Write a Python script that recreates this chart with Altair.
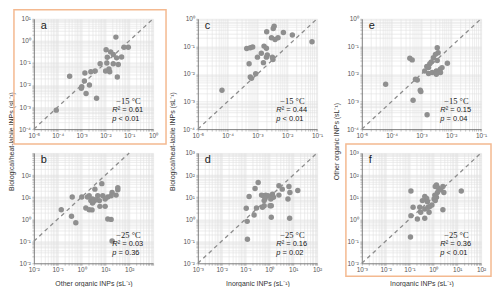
import altair as alt
import numpy as np
import pandas as pd

SANS = "Liberation Sans"
SERIF = "Liberation Serif"

# ---- data: log10 values ----
a_x = [-1.56, -1.97, -1.22, -1.04, -1.78, -1.67, -1.92, -1.32, -1.53, -2.22, -1.94, -1.67, -1.46, -1.85,
       -1.99, -1.82, -2.43, -2.61, -2.86, -1.50, -3.50, -2.88, -2.99, -3.01, -2.67, -2.81, -2.37, -4.06]
a_y = [0.17, -0.40, -0.29, -0.29, -0.50, -0.62, -0.74, -0.73, -0.77, -1.04, -1.00, -1.04, -1.07, -1.27,
       -1.37, -1.40, -1.37, -1.40, -1.46, -1.64, -1.60, -1.82, -2.08, -2.15, -2.00, -2.39, -2.60, -3.14]

b_x = [0.85, 1.52, 1.52, 1.28, 0.56, 0.32, 0.01, 0.25, 0.46, 0.68, 0.89, 1.10, 1.24, 1.45, 0.99, 0.75,
       0.61, 0.51, 0.39, 0.46, 0.77, 0.99, 0.18, 0.32, 0.44, -0.39, -0.85, -0.42, -0.24, 1.10, 1.24, 1.28]
b_y = [1.61, 1.43, 1.33, 1.21, 1.36, 1.06, 1.00, 1.00, 0.91, 1.06, 1.06, 1.00, 1.06, 1.09, 0.91, 0.84,
       0.88, 0.81, 0.84, 0.73, 0.58, 0.58, 0.51, 0.43, 0.42, 1.00, 0.43, 0.13, -0.16, 0.01, -0.01, -0.99]

c_x = [-2.44, -2.47, -2.13, -1.83, -2.69, -2.53, -2.41, -2.31, -1.17, -3.24, -3.16, -3.36, -2.78, -2.70,
       -2.87, -3.00, -2.67, -2.70, -2.50, -2.48, -2.80, -3.28, -3.06, -3.24, -3.20, -4.19]
c_y = [-0.27, -0.35, -0.50, -0.59, -0.47, -0.69, -0.75, -0.69, -0.83, -1.05, -1.02, -1.08, -0.99, -1.07,
       -1.25, -1.39, -1.31, -1.39, -1.39, -1.48, -1.59, -1.63, -1.99, -2.11, -2.16, -2.59]

d_x = [-0.47, -0.60, 0.40, 0.54, 0.86, 0.82, 1.19, -0.85, -0.33, -0.25, -0.15, -0.06, 0.13, 0.17, -0.18,
       -0.22, 0.06, 0.40, 0.78, -0.22, -0.29, 0.03, 0.08, -0.54, -0.97, -0.64, 0.08, 0.85, -0.93, -0.92]
d_y = [1.66, 1.39, 1.51, 1.36, 1.21, 1.48, 1.30, 1.03, 1.09, 1.06, 1.09, 1.06, 1.13, 0.99, 0.94,
       0.84, 0.91, 1.09, 0.91, 0.61, 0.54, 0.61, 0.61, 0.51, 0.49, 0.19, 0.09, 0.04, -0.10, -0.91]

e_x = [-2.47, -2.44, -2.53, -2.60, -2.47, -2.67, -2.72, -2.82, -2.76, -2.89, -2.76, -2.64, -2.50, -2.42,
       -2.31, -2.37, -2.13, -2.50, -2.36, -3.39, -3.31, -3.20, -3.14, -3.04, -3.02, -3.28, -4.20, -2.81]
e_y = [-1.05, -1.23, -1.29, -1.41, -1.51, -1.57, -1.63, -1.73, -1.77, -1.89, -1.98, -1.95, -1.89, -1.92,
       -1.77, -1.83, -1.61, -2.01, -1.95, -1.43, -1.49, -2.19, -2.22, -2.59, -2.64, -2.95, -2.37, -3.48]

f_x = [0.13, 0.08, 0.19, 0.40, 0.31, 0.17, 0.44, 0.06, 0.13, 0.03, 0.08, -0.06, 1.17, -0.94, -0.36,
       -0.28, -0.46, -0.25, -0.57, -0.85, -0.22, -0.15, -0.36, -0.53, -0.18, -0.67, -0.36, -0.94, 0.40, -0.96]
f_y = [1.55, 1.48, 1.43, 1.48, 1.33, 1.21, 1.21, 1.09, 0.99, 0.91, 0.84, 0.64, 1.28, 1.28, 1.03,
       0.94, 0.84, 0.79, 0.54, 0.54, 0.54, 0.57, 0.46, 0.31, 0.31, 0.01, 0.04, 0.16, 0.43, -0.81]

letters = ["a", "b", "c", "d", "e", "f"]
temps = ["−15 °C", "−25 °C", "−15 °C", "−25 °C", "−15 °C", "−25 °C"]
r2_vals = ["0.61", "0.03", "0.44", "0.16", "0.15", "0.36"]
p_vals = ["< 0.01", "= 0.36", "< 0.01", "= 0.02", "= 0.04", "< 0.01"]
x_decades = [(-5, 0), (-2, 3), (-5, -1), (-3, 2), (-5, -1), (-3, 2)]
y_decades = [(-4, 1), (-2, 3), (-4, 0), (-2, 3), (-4, 0), (-2, 3)]
x_labeled = [(-5, 0), (-2, 2), (-5, -1), (-3, 2), (-5, -1), (-3, 2)]
y_labeled = [(-4, 1), (-2, 2), (-4, 0), (-2, 3), (-4, 0), (-2, 3)]
line_x = [(-5, 0), (-2, 2), (-5, -1), (-3, 2), (-5, -1), (-3, 2)]
line_y = [(-4, 1), (-1, 3), (-4, 0), (-2, 3), (-4, 0), (-2, 3)]
x_titles = [None, "Other organic INPs (sL⁻¹)", None, "Inorganic INPs (sL⁻¹)", None, "Inorganic INPs (sL⁻¹)"]
y_titles = ["Biological/heat-labile INPs (sL⁻¹)", None, "Biological/heat-labile INPs (sL⁻¹)", None,
            "Other organic INPs (sL⁻¹)", None]
y_title_x = [-19, -19, -22, -22, -22, -22]
xs_all = [a_x, b_x, c_x, d_x, e_x, f_x]
ys_all = [a_y, b_y, c_y, d_y, e_y, f_y]
highlight = [True, False, False, False, False, True]
box_rel = {0: (-20, 133, -9, 126), 5: (-16, 130, -9, 124)}

W, H = 120, 111
SUP = str.maketrans("-0123456789", "⁻⁰¹²³⁴⁵⁶⁷⁸⁹")


def decade_label(e):
    return "10" + str(e).translate(SUP)


def label_expr(lo, hi):
    expr = "''"
    for e in range(lo, hi + 1):
        expr = f"abs(log(datum.value) / LN10 - ({e})) < 0.01 ? '{decade_label(e)}' : " + expr
    return expr


def grid_values(lo, hi):
    vals = [m * 10.0 ** k for k in range(lo, hi) for m in range(1, 10)]
    vals.append(10.0 ** hi)
    return vals


one = pd.DataFrame({"k": [0]})


def txt(text, x, y, baseline="middle", **kw):
    return alt.Chart(one).mark_text(text=text, align="left", baseline=baseline, color="#1a1a1a", **kw).encode(
        x=alt.value(x), y=alt.value(y))


def panel(i):
    xlo, xhi = x_decades[i]
    ylo, yhi = y_decades[i]
    xs = alt.Scale(type="log", domain=[10.0 ** xlo, 10.0 ** xhi], nice=False)
    ys = alt.Scale(type="log", domain=[10.0 ** ylo, 10.0 ** yhi], nice=False)
    xaxis_kw = dict(values=grid_values(xlo, xhi), labelExpr=label_expr(*x_labeled[i]), grid=True,
                    labelOverlap=False, labelFlush=False, title=x_titles[i])
    if x_titles[i]:
        xaxis_kw.update(titleX=W / 2, titleY=20, titleAlign="center", titleBaseline="middle")
    yaxis_kw = dict(values=grid_values(ylo, yhi), labelExpr=label_expr(*y_labeled[i]), grid=True,
                    labelOverlap=False, labelFlush=False, title=y_titles[i])
    if y_titles[i]:
        yaxis_kw.update(titleX=y_title_x[i], titleY=123, titleAngle=270, titleAlign="center",
                        titleBaseline="bottom")
    xaxis = alt.Axis(**xaxis_kw)
    yaxis = alt.Axis(**yaxis_kw)

    df = pd.DataFrame({"x": 10.0 ** np.array(xs_all[i]), "y": 10.0 ** np.array(ys_all[i])})
    ldf = pd.DataFrame({"x": [10.0 ** v for v in line_x[i]], "y": [10.0 ** v for v in line_y[i]]})

    line = alt.Chart(ldf).mark_line(strokeDash=[4, 3.5], color="#8c8c8c", strokeWidth=1.3).encode(
        x=alt.X("x:Q", scale=xs, axis=xaxis), y=alt.Y("y:Q", scale=ys, axis=yaxis))
    pts = alt.Chart(df).mark_circle(size=30, color="#8f8f8f", opacity=1).encode(
        x=alt.X("x:Q", scale=xs, axis=xaxis), y=alt.Y("y:Q", scale=ys, axis=yaxis))

    layers = [line, pts,
              txt(letters[i], 7, 10, baseline="alphabetic", font=SANS, fontSize=11),
              txt(temps[i], 83, 82.5, font=SERIF, fontSize=8.5),
              txt("R", 79, 92, font=SANS, fontSize=7.5, fontStyle="italic"),
              txt("² = " + r2_vals[i], 84.4, 92, font=SANS, fontSize=7.5),
              txt("p", 79, 100.5, font=SANS, fontSize=7.5, fontStyle="italic"),
              txt(p_vals[i], 85.3, 100.5, font=SANS, fontSize=7.5)]
    if highlight[i]:
        x0, x1, y0, y1 = box_rel[i]
        layers.append(alt.Chart(one).mark_rect(fillOpacity=0, stroke="#f4b990", strokeWidth=1.5).encode(
            x=alt.value(x0), x2=alt.value(x1), y=alt.value(y0), y2=alt.value(y1)))
    return alt.layer(*layers).properties(width=W, height=H)


order = [0, 2, 4, 1, 3, 5]
chart = alt.concat(*[panel(i) for i in order], columns=3,
                   spacing={"row": 24, "column": 45}, bounds="flush").properties(padding=0)

chart = chart.configure_view(strokeWidth=0).configure_axis(
    labelFont=SANS, titleFont=SANS, labelFontSize=6.5, labelColor="#555555",
    titleFontSize=7, titleColor="#333333", titleFontWeight="normal",
    domainColor="#666666", domainWidth=0.8, tickColor="#888888", tickSize=2, tickWidth=0.5,
    gridColor="#e0e0e0", gridWidth=0.6, labelPadding=1.5)

chart.save("out.html", embed_options={"renderer": "svg", "actions": False})
